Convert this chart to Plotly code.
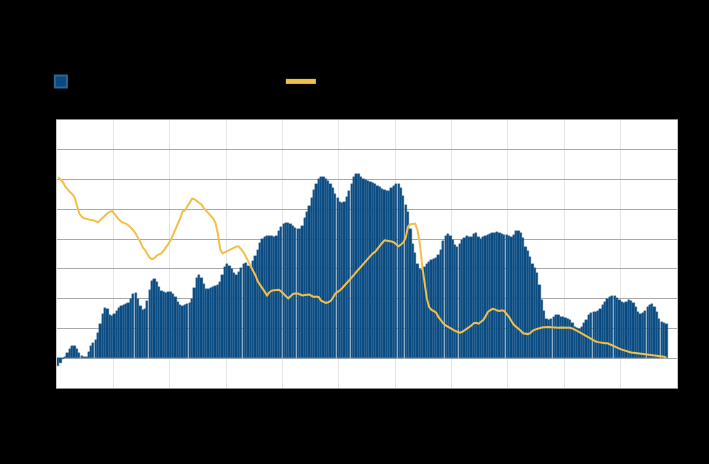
import pandas as pd
import plotly.graph_objects as go

months = pd.date_range("2000-01-01", periods=260, freq="MS").strftime("%Y-%m-%d").tolist()

volume = [
    -0.25, -0.15, -0.03, 0.05, 0.18, 0.32, 0.42, 0.42, 0.32, 0.18,
    0.08, 0.04, 0.05, 0.22, 0.42, 0.52, 0.62, 0.85, 1.15, 1.50,
    1.68, 1.64, 1.46, 1.43, 1.48, 1.60, 1.70, 1.75, 1.78, 1.82,
    1.86, 2.00, 2.15, 2.18, 2.00, 1.75, 1.62, 1.66, 1.92, 2.30,
    2.60, 2.66, 2.55, 2.40, 2.26, 2.22, 2.20, 2.22, 2.24, 2.16,
    2.05, 1.90, 1.78, 1.76, 1.79, 1.82, 1.86, 1.98, 2.35, 2.68,
    2.78, 2.68, 2.48, 2.33, 2.32, 2.35, 2.38, 2.42, 2.46, 2.55,
    2.80, 3.05, 3.15, 3.10, 3.00, 2.85, 2.80, 2.88, 3.02, 3.18,
    3.20, 3.10, 3.08, 3.25, 3.42, 3.65, 3.88, 4.00, 4.08, 4.10,
    4.12, 4.10, 4.06, 4.10, 4.26, 4.42, 4.50, 4.53, 4.53, 4.50,
    4.45, 4.38, 4.33, 4.35, 4.45, 4.70, 4.92, 5.12, 5.38, 5.65,
    5.85, 6.02, 6.10, 6.07, 6.02, 5.95, 5.85, 5.70, 5.53, 5.38,
    5.26, 5.22, 5.25, 5.40, 5.60, 5.85, 6.08, 6.20, 6.20, 6.10,
    6.02, 5.98, 5.94, 5.92, 5.90, 5.86, 5.80, 5.74, 5.68, 5.64,
    5.62, 5.63, 5.70, 5.77, 5.84, 5.86, 5.72, 5.45, 5.15, 4.90,
    4.35, 3.85, 3.52, 3.18, 3.00, 2.96, 3.08, 3.18, 3.24, 3.30,
    3.34, 3.38, 3.46, 3.65, 3.93, 4.10, 4.18, 4.12, 3.98, 3.80,
    3.74, 3.84, 3.97, 4.04, 4.09, 4.08, 4.07, 4.18, 4.22, 4.08,
    4.02, 4.06, 4.10, 4.14, 4.18, 4.20, 4.22, 4.23, 4.20, 4.16,
    4.15, 4.13, 4.10, 4.07, 4.15, 4.26, 4.27, 4.22, 4.05, 3.75,
    3.60, 3.40, 3.18, 3.02, 2.85, 2.45, 1.95, 1.58, 1.32, 1.30,
    1.33, 1.40, 1.46, 1.45, 1.40, 1.37, 1.34, 1.32, 1.28, 1.18,
    1.06, 1.00, 0.97, 1.05, 1.18, 1.30, 1.45, 1.52, 1.54, 1.56,
    1.58, 1.64, 1.78, 1.90, 1.98, 2.05, 2.08, 2.09, 2.03, 1.94,
    1.90, 1.87, 1.90, 1.94, 1.93, 1.84, 1.72, 1.56, 1.48, 1.52,
    1.58, 1.72, 1.80, 1.83, 1.72, 1.55, 1.32, 1.20, 1.17, 1.15,
]

rate = [
    6.08, 6.00, 5.92, 5.77, 5.66, 5.58, 5.52, 5.40, 5.12, 4.86,
    4.76, 4.70, 4.68, 4.65, 4.64, 4.63, 4.60, 4.57, 4.64, 4.72,
    4.80, 4.87, 4.92, 4.94, 4.84, 4.73, 4.65, 4.58, 4.55, 4.51,
    4.46, 4.39, 4.30, 4.19, 4.06, 3.90, 3.72, 3.64, 3.50, 3.37,
    3.33, 3.36, 3.45, 3.49, 3.53, 3.62, 3.72, 3.85, 3.98, 4.15,
    4.32, 4.48, 4.70, 4.93, 4.96, 5.10, 5.25, 5.36, 5.34, 5.28,
    5.23, 5.16, 5.05, 4.95, 4.87, 4.78, 4.70, 4.55, 4.18, 3.65,
    3.52, 3.55, 3.60, 3.64, 3.68, 3.72, 3.75, 3.75, 3.66, 3.55,
    3.40, 3.25, 3.08, 2.94, 2.78, 2.58, 2.46, 2.36, 2.20, 2.11,
    2.22, 2.27, 2.28, 2.29, 2.30, 2.24, 2.16, 2.10, 2.01, 2.08,
    2.16, 2.17, 2.17, 2.14, 2.11, 2.12, 2.13, 2.14, 2.09, 2.06,
    2.07, 2.05, 1.93, 1.88, 1.86, 1.88, 1.92, 2.03, 2.17, 2.23,
    2.28, 2.36, 2.44, 2.52, 2.60, 2.70, 2.80, 2.90, 2.99, 3.10,
    3.19, 3.28, 3.37, 3.46, 3.52, 3.57, 3.68, 3.78, 3.87, 3.96,
    3.95, 3.93, 3.92, 3.89, 3.82, 3.76, 3.82, 3.89, 4.05, 4.42,
    4.50, 4.52, 4.52, 4.30, 3.85, 3.10, 2.55, 2.00, 1.72, 1.62,
    1.58, 1.53, 1.38, 1.25, 1.17, 1.10, 1.05, 0.99, 0.96, 0.92,
    0.89, 0.86, 0.88, 0.93, 0.99, 1.04, 1.10, 1.18, 1.19, 1.16,
    1.22, 1.28, 1.40, 1.55, 1.61, 1.66, 1.64, 1.60, 1.59, 1.61,
    1.58, 1.49, 1.38, 1.25, 1.13, 1.06, 1.00, 0.92, 0.84, 0.82,
    0.81, 0.84, 0.92, 0.96, 0.99, 1.01, 1.03, 1.04, 1.05, 1.05,
    1.04, 1.03, 1.02, 1.02, 1.03, 1.03, 1.02, 1.02, 1.02, 1.00,
    0.97, 0.92, 0.88, 0.83, 0.79, 0.74, 0.69, 0.63, 0.60, 0.56,
    0.54, 0.52, 0.51, 0.50, 0.50, 0.46, 0.42, 0.38, 0.35, 0.32,
    0.29, 0.26, 0.23, 0.21, 0.19, 0.18, 0.17, 0.16, 0.15, 0.14,
    0.13, 0.12, 0.11, 0.11, 0.10, 0.09, 0.08, 0.07, 0.05, 0.02,
]

fig = go.Figure()
fig.add_trace(go.Bar(
    x=months, y=volume, name="Monthly volume",
    xperiod="M1", xperiodalignment="middle",
    marker=dict(color="#084a80", line=dict(width=0.4, color="#2f6497")),
))
fig.add_trace(go.Scatter(
    x=months, y=rate, name="Average rate",
    mode="lines", xperiod="M1", xperiodalignment="middle",
    line=dict(color="#f2c04a", width=2),
))

fig.update_layout(
    width=709, height=464,
    paper_bgcolor="#000000", plot_bgcolor="#ffffff",
    margin=dict(l=56.5, r=32, t=119.5, b=76),
    bargap=0,
    font=dict(family="Liberation Sans, Arial", color="#000000", size=11),
    title=dict(text="Monthly volume and average rate", x=0.08, y=0.96,
               font=dict(color="#000000", size=14)),
    showlegend=True,
    legend=dict(orientation="h", x=-0.026, xanchor="left", y=1.144, yanchor="middle",
                bgcolor="rgba(0,0,0,0)", font=dict(color="#000000", size=11),
                entrywidth=195, entrywidthmode="pixels", itemsizing="constant"),
    xaxis=dict(type="date", range=["2000-01-01", "2022-01-01"], dtick="M24",
               tick0="2000-01-01", tickformat="%Y", ticklabelmode="period",
               showgrid=True, gridcolor="#e4e4e4", gridwidth=1,
               showline=True, linecolor="#8c8c8c", linewidth=1, mirror=True,
               ticks="", tickfont=dict(color="#000000")),
    yaxis=dict(range=[-1, 8], dtick=1, showgrid=True, gridcolor="#a8a8a8",
               gridwidth=1, zeroline=True, zerolinecolor="#a8a8a8", zerolinewidth=1,
               showline=True, linecolor="#c8c8c8", linewidth=1, mirror=True,
               ticks="", tickfont=dict(color="#000000")),
)

fig.write_html("out.html", config={"displayModeBar": False},
               post_script="document.body.style.margin='0';")
